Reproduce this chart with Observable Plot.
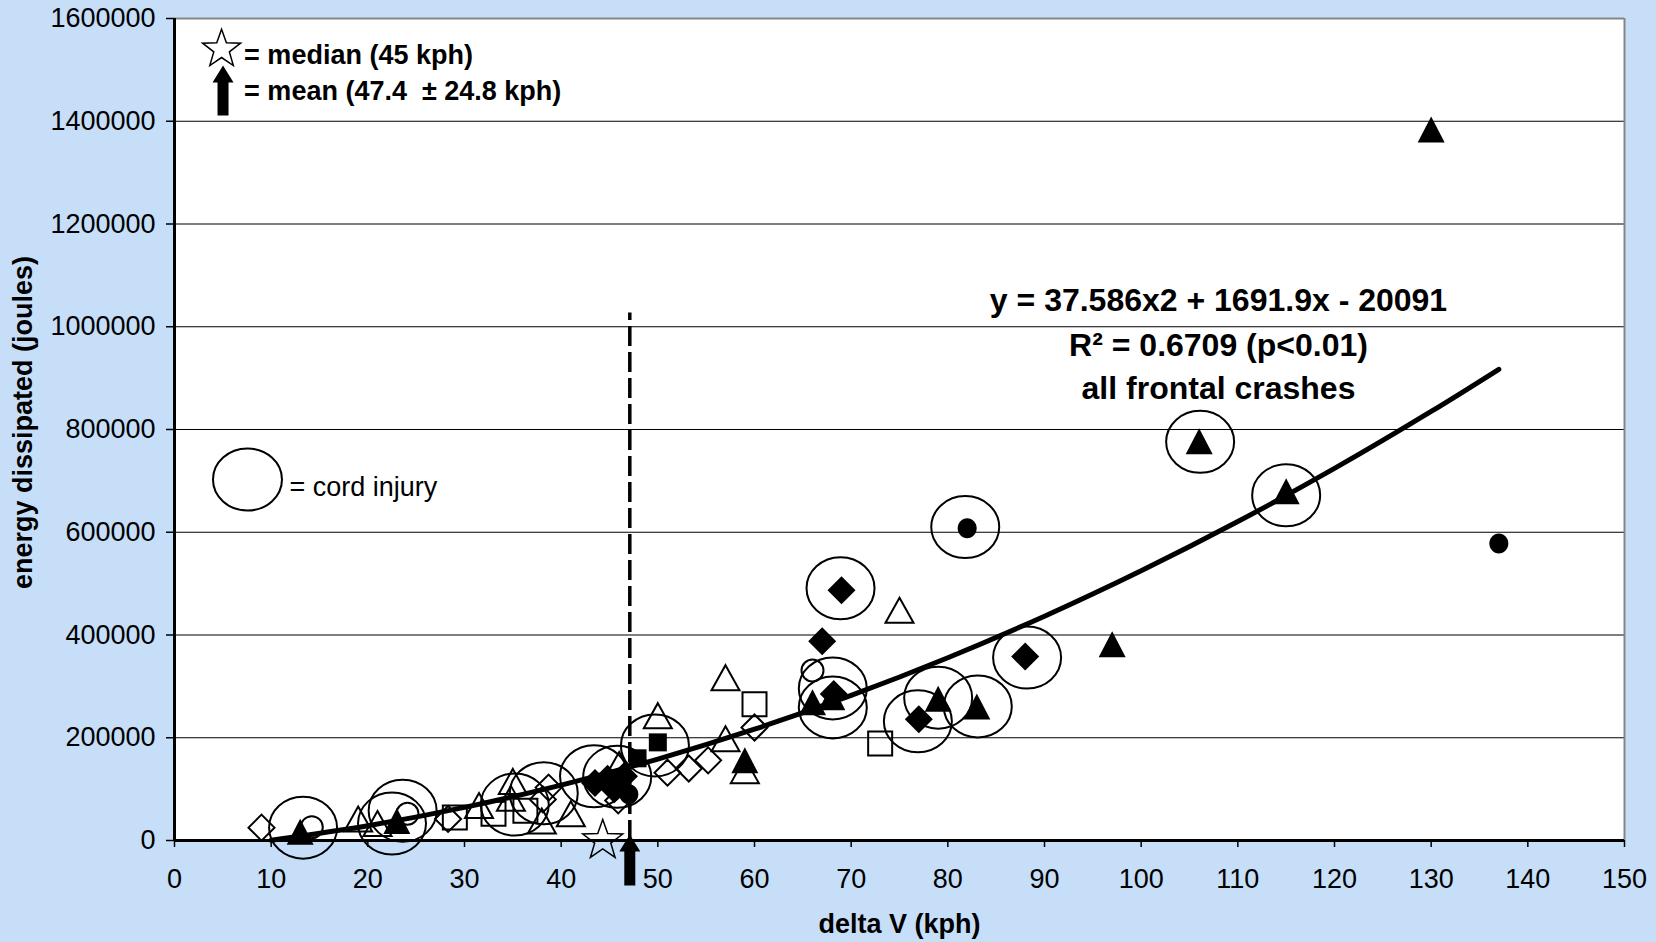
<!DOCTYPE html>
<html>
<head>
<meta charset="utf-8">
<script src="https://cdn.jsdelivr.net/npm/d3@7"></script>
<script src="https://cdn.jsdelivr.net/npm/@observablehq/plot@0.6"></script>
<style>
html, body { margin: 0; padding: 0; background: #C6DEF8; }
#chart svg { display: block; }
svg text { white-space: pre; }
</style>
</head>
<body>
<div id="chart"></div>
<script>
// ---------- axis ticks ----------
const xTicks = [0, 10, 20, 30, 40, 50, 60, 70, 80, 90, 100, 110, 120, 130, 140, 150];
const yTicks = [0, 200000, 400000, 600000, 800000, 1000000, 1200000, 1400000, 1600000];
const gridTicks = [200000, 400000, 600000, 800000, 1000000, 1200000, 1400000];

// ---------- data series (delta V kph, energy J) ----------
const filledTriangleX = [13, 23, 59, 66, 68, 79, 83, 97, 106, 115, 130];
const filledTriangleY = [17000, 38000, 156000, 269000, 279000, 276000, 261000, 382000, 777000, 680000, 1384000];

const openTriangleX = [19, 21, 31.5, 35, 34.8, 38, 41, 46, 50, 57, 57, 59, 75];
const openTriangleY = [42000, 33000, 68000, 115000, 82000, 38000, 52000, 148000, 243000, 198000, 317000, 136000, 448000];

const filledDiamondX = [43.5, 44.8, 45.5, 46.5, 67, 68.2, 69, 77, 88];
const filledDiamondY = [112000, 120000, 100000, 125000, 388000, 285000, 487000, 236000, 358000];

const openDiamondX = [9, 28.3, 38.1, 38.7, 45.9, 51, 53.2, 55.2, 60];
const openDiamondY = [25000, 42000, 80000, 103000, 78000, 132000, 140000, 156000, 220000];

const filledSquareX = [47.9, 50];
const filledSquareY = [160000, 191000];

const openSquareX = [29, 33, 36.3, 60, 73];
const openSquareY = [45000, 52000, 58000, 265000, 189000];

const filledCircleX = [47, 82, 137];
const filledCircleY = [90000, 608000, 578000];

const openCircleX = [14.2, 24.1, 66];
const openCircleY = [26000, 52000, 331000];

// cord injury rings
const cordX = [13.3, 22.5, 23.6, 35.2, 38.2, 43.4, 45.8, 49.7, 68.1, 68.1, 76.9, 79, 83.1, 88.2, 81.8, 68.9, 106.1, 115];
const cordY = [25000, 33000, 58000, 70000, 92000, 125000, 124000, 185000, 296000, 259000, 232000, 278000, 261000, 356000, 610000, 491000, 776000, 672000];

// quadratic trend line
const trendX = [10, 20, 30, 40, 50, 60, 70, 80, 90, 100, 110, 120, 130, 137];
const trendY = [600, 28800, 64500, 107700, 158500, 216700, 282500, 355800, 436600, 525000, 620800, 724200, 835100, 917200];

// median / mean markers
const medianX = [44.3], medianY = [0];
const meanX = [47.1];
const meanLineTop = [1027000];
const meanArrowY = [11700];

// legend & annotation
const legendStarX = [4.87], legendStarY = [1540000];
const legendArrowX = [5.02], legendArrowY = [1508500];
const legendCordX = [7.55], legendCordY = [702700];
const legendBoldX = [7.2, 7.2];
const legendBoldY = [1512400, 1440400];
const legendBoldText = ["= median (45 kph)", "= mean (47.4  \u00b1 24.8 kph)"];
const legendCordTextX = [11.9], legendCordTextY = [671500];
const legendCordText = ["= cord injury"];

const eqX = [108, 108, 108];
const eqY = [1031600, 944000, 860300];
const eqText = ["y = 37.586x2 + 1691.9x - 20091", "R\u00b2 = 0.6709 (p<0.01)", "all frontal crashes"];

const xTitle = "delta V (kph)";
const yTitle = "energy dissipated (joules)";

// ---------- custom symbols ----------
const tri = (w, h) => ({draw(c) { c.moveTo(0, -h / 2); c.lineTo(w / 2, h / 2); c.lineTo(-w / 2, h / 2); c.closePath(); }});
const dia = (w, h) => ({draw(c) { c.moveTo(0, -h / 2); c.lineTo(w / 2, 0); c.lineTo(0, h / 2); c.lineTo(-w / 2, 0); c.closePath(); }});
const sq = (s) => ({draw(c) { c.rect(-s / 2, -s / 2, s, s); }});
const circ = (r) => ({draw(c) { c.moveTo(r, 0); c.arc(0, 0, r, 0, 2 * Math.PI); }});
const ell = (rx, ry) => ({draw(c) {
  const k = 0.5523;
  c.moveTo(rx, 0);
  c.bezierCurveTo(rx, k * ry, k * rx, ry, 0, ry);
  c.bezierCurveTo(-k * rx, ry, -rx, k * ry, -rx, 0);
  c.bezierCurveTo(-rx, -k * ry, -k * rx, -ry, 0, -ry);
  c.bezierCurveTo(k * rx, -ry, rx, -k * ry, rx, 0);
  c.closePath();
}});
const star = (R, r) => ({draw(c) {
  for (let i = 0; i < 10; i++) {
    const a = -Math.PI / 2 + i * Math.PI / 5;
    const rad = i % 2 ? r : R;
    const px = rad * Math.cos(a), py = rad * Math.sin(a);
    if (i) c.lineTo(px, py); else c.moveTo(px, py);
  }
  c.closePath();
}});
// arrow with tip at the origin pointing up
const arrow = (len, hw, hh, sw) => ({draw(c) {
  c.moveTo(0, 0); c.lineTo(hw, hh); c.lineTo(sw, hh); c.lineTo(sw, len);
  c.lineTo(-sw, len); c.lineTo(-sw, hh); c.lineTo(-hw, hh); c.closePath();
}});

const font = "'Liberation Sans', Arial, Helvetica, sans-serif";

const chart = Plot.plot({
  width: 1656,
  height: 942,
  marginLeft: 174,
  marginRight: 32,
  marginTop: 18,
  marginBottom: 102,
  x: {domain: [0, 150]},
  y: {domain: [0, 1600000]},
  style: {background: "transparent", fontFamily: font, fontSize: "27px", color: "black", overflow: "visible"},
  marks: [
    Plot.frame({fill: "white", stroke: "none"}),
    Plot.gridY({ticks: gridTicks, stroke: "black", strokeOpacity: 1, strokeWidth: 1.2}),
    Plot.ruleY([1600000], {stroke: "#858585", strokeWidth: 2}),
    Plot.ruleX([150], {stroke: "#858585", strokeWidth: 2}),
    Plot.ruleX(meanX, {x: d => d, y1: 0, y2: meanLineTop[0], stroke: "black", strokeWidth: 3.5, strokeDasharray: "20,6"}),
    // open markers
    Plot.dot(openTriangleX, {x: openTriangleX, y: openTriangleY, symbol: tri(28, 25), fill: "none", stroke: "black", strokeWidth: 2}),
    Plot.dot(openDiamondX, {x: openDiamondX, y: openDiamondY, symbol: dia(26, 26), fill: "none", stroke: "black", strokeWidth: 2}),
    Plot.dot(openSquareX, {x: openSquareX, y: openSquareY, symbol: sq(24), fill: "none", stroke: "black", strokeWidth: 2}),
    Plot.dot(openCircleX, {x: openCircleX, y: openCircleY, symbol: circ(11), fill: "none", stroke: "black", strokeWidth: 2}),
    // filled markers
    Plot.dot(filledTriangleX, {x: filledTriangleX, y: filledTriangleY, symbol: tri(27, 26), fill: "black", stroke: "none"}),
    Plot.dot(filledDiamondX, {x: filledDiamondX, y: filledDiamondY, symbol: dia(28, 28), fill: "black", stroke: "none"}),
    Plot.dot(filledSquareX, {x: filledSquareX, y: filledSquareY, symbol: sq(18), fill: "black", stroke: "none"}),
    Plot.dot(filledCircleX, {x: filledCircleX, y: filledCircleY, symbol: ell(9.5, 10), fill: "black", stroke: "none"}),
    // trend line
    Plot.line(trendX, {x: trendX, y: trendY, curve: "catmull-rom", stroke: "black", strokeWidth: 5}),
    // cord injury rings
    Plot.dot(cordX, {x: cordX, y: cordY, symbol: ell(34, 31), fill: "none", stroke: "black", strokeWidth: 2}),
    // axis lines
    Plot.ruleY([0], {stroke: "black", strokeWidth: 3}),
    Plot.ruleX([0], {stroke: "black", strokeWidth: 3}),
    Plot.axisX({ticks: xTicks, tickSize: 7, tickPadding: 21, tickFormat: d => String(d), label: null, fontSize: 27, strokeWidth: 1.5}),
    Plot.axisY({ticks: yTicks, tickSize: 8, tickPadding: 11, tickFormat: d => String(d), label: null, fontSize: 27, strokeWidth: 1.5}),
    // median star and mean arrow
    Plot.dot(medianX, {x: medianX, y: medianY, symbol: star(21, 8.5), fill: "none", stroke: "black", strokeWidth: 1.5}),
    Plot.dot(meanX, {x: meanX, y: meanArrowY, symbol: arrow(51, 10.5, 17, 5.5), fill: "black", stroke: "none"}),
    // legend
    Plot.dot(legendStarX, {x: legendStarX, y: legendStarY, symbol: star(20, 8.2), fill: "white", stroke: "black", strokeWidth: 1.5}),
    Plot.dot(legendArrowX, {x: legendArrowX, y: legendArrowY, symbol: arrow(50, 10.5, 17, 5.5), fill: "black", stroke: "none"}),
    Plot.dot(legendCordX, {x: legendCordX, y: legendCordY, symbol: ell(34.5, 31), fill: "none", stroke: "black", strokeWidth: 2}),
    Plot.text(legendBoldText, {x: legendBoldX, y: legendBoldY, text: legendBoldText, textAnchor: "start", lineAnchor: "bottom", fontSize: 27, fontWeight: "bold", fill: "black"}),
    Plot.text(legendCordText, {x: legendCordTextX, y: legendCordTextY, text: legendCordText, textAnchor: "start", lineAnchor: "bottom", fontSize: 27, fontWeight: "normal", fill: "black"}),
    // equation annotation
    Plot.text(eqText, {x: eqX, y: eqY, text: eqText, textAnchor: "middle", lineAnchor: "bottom", fontSize: 32, fontWeight: "bold", fill: "black"}),
    // axis titles
    Plot.text([xTitle], {x: [75], y: [-163500], text: [xTitle], fontSize: 27, fontWeight: "bold", fill: "black"}),
    Plot.text([yTitle], {x: [-15.6], y: [813600], text: [yTitle], rotate: -90, fontSize: 27, fontWeight: "bold", fill: "black"})
  ]
});
document.getElementById("chart").appendChild(chart);
</script>
</body>
</html>
